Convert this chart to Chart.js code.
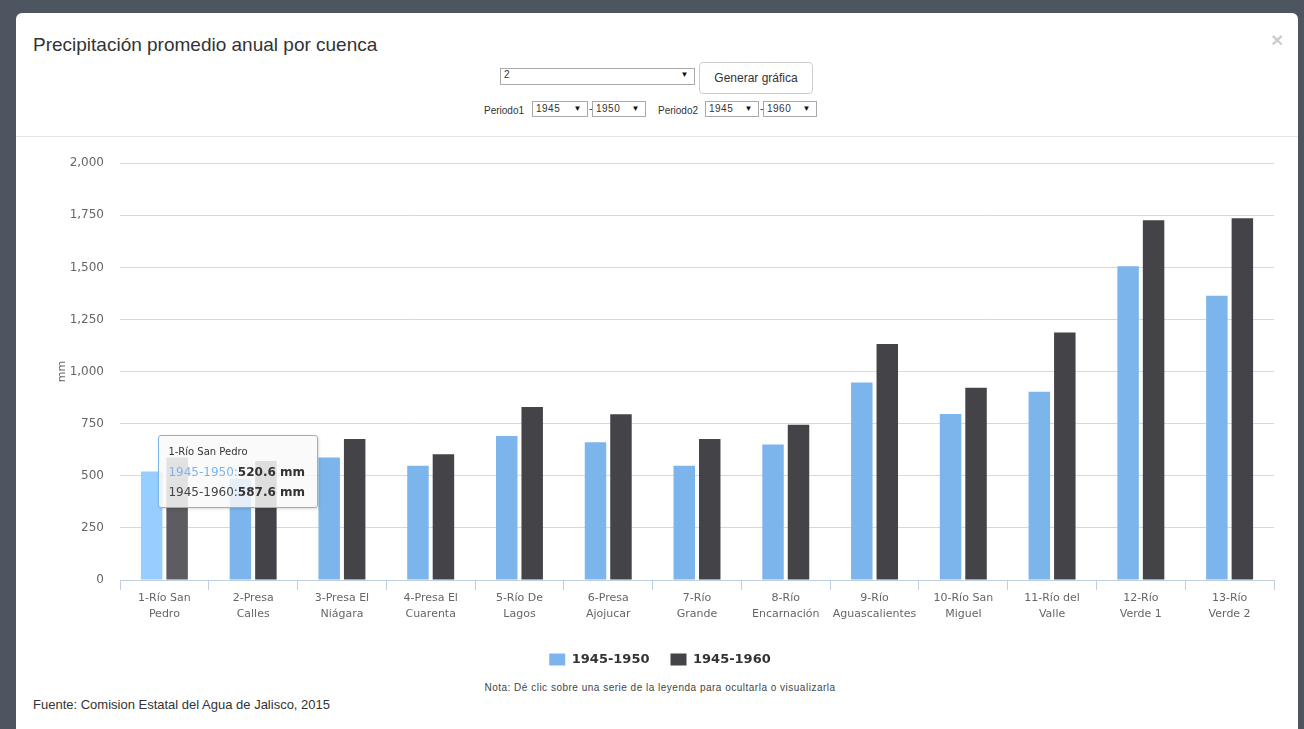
<!DOCTYPE html>
<html lang="es">
<head>
<meta charset="utf-8">
<title>Precipitación promedio anual por cuenca</title>
<script src="https://cdn.jsdelivr.net/npm/chart.js@4.4.1/dist/chart.umd.min.js"></script>
<style>
    html, body { margin: 0; padding: 0; }
    body { width: 1304px; height: 729px; overflow: hidden; position: relative; background: #4d5560; font-family: "Liberation Sans", Arial, sans-serif; color: #333; }
    .modal { position: absolute; left: 16px; top: 13px; width: 1282px; height: 760px; background: #fff; border-radius: 6px; }
    .linea { position: absolute; left: 16px; top: 136px; width: 1282px; height: 1px; background: #e5e5e5; }
    .titulo { position: absolute; left: 33px; top: 35px; font-size: 19px; line-height: 20px; color: #333; }
    .cerrar { position: absolute; left: 1271px; top: 28px; font-size: 21px; font-weight: bold; color: #000; opacity: .2; }
    .caja { position: absolute; box-sizing: border-box; border: 1px solid #a9a9a9; background: #fff; font-size: 10px; line-height: 12px; color: #333; padding-left: 3px; letter-spacing: 0.5px; }
    .caja .flecha { position: absolute; right: 5px; top: 0; font-size: 8px; color: #111; }
    .boton { position: absolute; left: 699px; top: 62px; width: 114px; height: 32px; box-sizing: border-box; border: 1px solid #ccc; border-radius: 4px; font-size: 12px; line-height: 30px; text-align: center; color: #333; background: #fff; }
    .etq { position: absolute; top: 104px; font-size: 10px; line-height: 13px; color: #333; }
    .guion { position: absolute; top: 103px; font-size: 10px; color: #333; }
    #contenedor { position: absolute; left: 16px; top: 140px; width: 1282px; height: 536px; }
    #tooltip { position: absolute; opacity: 0; pointer-events: none; box-sizing: border-box; width: 160px; padding: 8px 9px 5px 9px; background: rgba(249, 249, 249, 0.85); border: 1px solid #7cb5ec; border-radius: 3px; box-shadow: 1px 1px 3px rgba(0, 0, 0, 0.15); font-family: "DejaVu Sans", sans-serif; color: #333; white-space: nowrap; }
    #tooltip .tt-titulo { font-size: 10px; line-height: 16px; margin-bottom: 2px; }
    #tooltip .tt-linea { font-size: 12px; line-height: 20px; }
    #tooltip b { font-weight: bold; }
    .nota { position: absolute; left: 360px; top: 682px; width: 600px; text-align: center; font-size: 10px; letter-spacing: 0.5px; color: #444; }
    .fuente { position: absolute; left: 33px; top: 697px; font-size: 13px; color: #333; }
</style>
</head>
<body>
<div class="modal"></div>
<div class="titulo">Precipitación promedio anual por cuenca</div>
<div class="cerrar">×</div>
<div class="caja" style="left:500px; top:68px; width:195px; height:17px;">2<span class="flecha">▼</span></div>
<div class="boton">Generar gráfica</div>
<div class="etq" style="left:484px;">Periodo1</div>
<div class="caja" style="left:532px; top:101px; width:56px; height:16px; line-height:14px;">1945<span class="flecha" style="line-height:14px;">▼</span></div>
<div class="guion" style="left:589px;">-</div>
<div class="caja" style="left:592px; top:101px; width:54px; height:16px; line-height:14px;">1950<span class="flecha" style="line-height:14px;">▼</span></div>
<div class="etq" style="left:658px;">Periodo2</div>
<div class="caja" style="left:705px; top:101px; width:54px; height:16px; line-height:14px;">1945<span class="flecha" style="line-height:14px;">▼</span></div>
<div class="guion" style="left:760px;">-</div>
<div class="caja" style="left:763px; top:101px; width:54px; height:16px; line-height:14px;">1960<span class="flecha" style="line-height:14px;">▼</span></div>
<div class="linea"></div>

<div id="contenedor">
    <canvas id="grafica" width="1282" height="536"></canvas>
    <div id="tooltip"></div>
</div>

<div class="nota">Nota: Dé clic sobre una serie de la leyenda para ocultarla o visualizarla</div>
<div class="fuente">Fuente: Comision Estatal del Agua de Jalisco, 2015</div>

<script>
// datos
const cuencas = ['1-Río San Pedro', '2-Presa Calles', '3-Presa El Niágara', '4-Presa El Cuarenta', '5-Río De Lagos', '6-Presa Ajojucar', '7-Río Grande', '8-Río Encarnación', '9-Río Aguascalientes', '10-Río San Miguel', '11-Río del Valle', '12-Río Verde 1', '13-Río Verde 2'];
const etiquetas = [['1-Río San', 'Pedro'], ['2-Presa', 'Calles'], ['3-Presa El', 'Niágara'], ['4-Presa El', 'Cuarenta'], ['5-Río De', 'Lagos'], ['6-Presa', 'Ajojucar'], ['7-Río', 'Grande'], ['8-Río', 'Encarnación'], ['9-Río', 'Aguascalientes'], ['10-Río San', 'Miguel'], ['11-Río del', 'Valle'], ['12-Río', 'Verde 1'], ['13-Río', 'Verde 2']];
const periodo1 = [520.6, 486, 588, 548, 691, 661, 548, 650, 948, 797, 903, 1505, 1364];
const periodo2 = [587.6, 571, 677, 604, 830, 795, 677, 745, 1132, 923, 1188, 1726, 1736];
const ticksY = [0, 250, 500, 750, 1000, 1250, 1500, 1750, 2000];

Chart.defaults.font.family = '"DejaVu Sans", sans-serif';
Chart.defaults.color = '#666';

function tooltipExterno(context) {
    const {tooltip} = context;
    const el = document.getElementById('tooltip');
    if (tooltip.opacity === 0) {
        el.style.opacity = 0;
        return;
    }
    const pts = tooltip.dataPoints;
    let html = '<div class="tt-titulo">' + cuencas[pts[0].dataIndex] + '</div>';
    pts.forEach(p => {
        const color = p.dataset.backgroundColor;
        html += '<div class="tt-linea"><span style="color:' + color + '">' + p.dataset.label + ':</span><b>' + p.raw.toFixed(1) + ' mm</b></div>';
    });
    el.innerHTML = html;
    el.style.left = (tooltip.caretX - 6) + 'px';
    el.style.top = (tooltip.caretY - 30) + 'px';
    el.style.opacity = 1;
}

const grafica = new Chart(document.getElementById('grafica'), {
    type: 'bar',
    data: {
        labels: etiquetas,
        datasets: [
            {
                label: '1945-1950',
                data: periodo1,
                backgroundColor: '#7cb5ec',
                hoverBackgroundColor: '#95ceff',
                categoryPercentage: 0.574,
                barPercentage: 0.843
            },
            {
                label: '1945-1960',
                data: periodo2,
                backgroundColor: '#434348',
                hoverBackgroundColor: '#5c5c61',
                categoryPercentage: 0.574,
                barPercentage: 0.843
            }
        ]
    },
    options: {
        responsive: false,
        devicePixelRatio: 1,
        animation: false,
        events: [],
        locale: 'en-US',
        layout: { padding: { left: 30, right: 24, top: 23, bottom: 0 } },
        scales: {
            x: {
                grid: { offset: true, drawOnChartArea: false, drawTicks: true, tickLength: 10, color: '#C0D0E0' },
                border: { display: true, color: '#C0D0E0' },
                ticks: { padding: 0, maxRotation: 0, autoSkip: false, color: '#666', font: { size: 11, lineHeight: 1.45 } },
                afterFit: scale => { scale.height = 52; }
            },
            y: {
                min: 0,
                max: 2000,
                afterBuildTicks: scale => { scale.ticks = ticksY.map(v => ({value: v})); },
                grid: { color: '#D8D8D8', drawTicks: false },
                border: { display: false },
                ticks: { padding: 16, color: '#666', font: { size: 12 } },
                title: { display: true, text: 'mm', color: '#666', font: { size: 11 }, padding: { top: 10, bottom: 0 } },
                afterFit: scale => { scale.width = 74; }
            }
        },
        plugins: {
            legend: {
                position: 'bottom',
                labels: { boxWidth: 16, boxHeight: 12, padding: 21, color: '#333', font: { size: 13, weight: 'bold' } }
            },
            tooltip: {
                enabled: false,
                mode: 'index',
                external: tooltipExterno
            }
        }
    }
});

const activos = [{datasetIndex: 0, index: 0}, {datasetIndex: 1, index: 0}];
grafica.setActiveElements(activos);
grafica.tooltip.setActiveElements(activos, {x: 150, y: 460});
grafica.update('none');
</script>
</body>
</html>
